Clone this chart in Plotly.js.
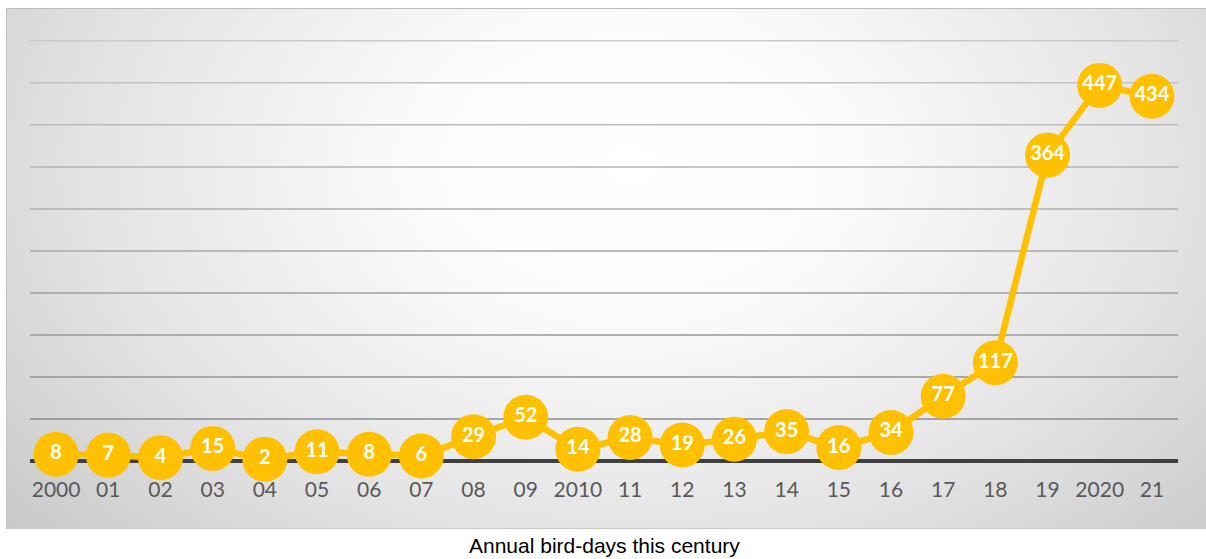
<!DOCTYPE html>
<html>
<head>
<meta charset="utf-8">
<script src="https://cdn.plot.ly/plotly-3.0.1.min.js"></script>
<style>
  html, body { margin: 0; padding: 0; background: #ffffff; }
  #wrap { position: relative; width: 1206px; height: 559px; }
  #bg {
    position: absolute; left: 6px; top: 8px; width: 1200px; height: 521px;
    background: radial-gradient(ellipse 72% 115% at 52% 30%, #ffffff 0%, #fbfbfb 25%, #e4e4e4 62%, #c4c4c4 100%);
    border-top: 1px solid #bdbdbd; border-bottom: 1px solid #c8c8c8; border-left: 1px solid #c2c2c2; box-sizing: border-box;
  }
  #chart { position: absolute; left: 0; top: 0; width: 1206px; height: 559px; }
</style>
</head>
<body>
<div id="wrap">
  <div id="bg"></div>
  <div id="chart"></div>
</div>
<script>
const years = ["2000","01","02","03","04","05","06","07","08","09","2010","11","12","13","14","15","16","17","18","19","2020","21"];
const birdDays = [8,7,4,15,2,11,8,6,29,52,14,28,19,26,35,16,34,77,117,364,447,434];
const gridValues = [50,100,150,200,250,300,350,400,450,500];
const chartTitle = "Annual bird-days this century";

const trace = {
  type: 'scatter',
  mode: 'lines+markers+text',
  x: years,
  y: birdDays,
  text: birdDays.map(String),
  textposition: 'middle center',
  textfont: { family: 'Lato, sans-serif', size: 20, color: '#ffffff', weight: 'bold' },
  line: { color: '#FFC000', width: 6.5 },
  marker: { color: '#FFC000', size: 45, line: { width: 0 } },
  cliponaxis: false,
  hoverinfo: 'x+y'
};

// gridlines fade from darker (bottom) to lighter (top), as in the reference
function gridColor(i, n) {
  const t = i / (n - 1);
  const c = Math.round(140 + t * (202 - 140));
  return 'rgb(' + c + ',' + c + ',' + c + ')';
}
const gridShapes = gridValues.map((v, i) => ({
  type: 'line', layer: 'below',
  xref: 'paper', x0: 0, x1: 1,
  yref: 'y', y0: v, y1: v,
  line: { color: gridColor(i, gridValues.length), width: 1.5 }
}));

const layout = {
  width: 1206, height: 559,
  margin: { l: 30, r: 28, t: 40, b: 98 },
  paper_bgcolor: 'rgba(0,0,0,0)',
  plot_bgcolor: 'rgba(0,0,0,0)',
  showlegend: false,
  xaxis: {
    type: 'category',
    range: [-0.5, 21.5],
    showgrid: false, zeroline: false, showline: false,
    ticks: '',
    tickfont: { family: 'Lato, sans-serif', size: 21, color: '#595959' },
    ticklabelstandoff: 14,
    fixedrange: true
  },
  yaxis: {
    range: [0, 501],
    dtick: 50,
    showticklabels: false,
    ticks: '',
    showgrid: false,
    zeroline: true,
    zerolinecolor: '#404040',
    zerolinewidth: 4,
    showline: false,
    fixedrange: true
  },
  shapes: gridShapes,
  annotations: [{
    text: chartTitle,
    xref: 'paper', yref: 'paper',
    x: 0.5, y: -0.2,
    xanchor: 'center', yanchor: 'middle',
    showarrow: false,
    font: { family: 'Liberation Sans, Arial, sans-serif', size: 21, color: '#000000' }
  }]
};

Plotly.newPlot('chart', [trace], layout, { displayModeBar: false, staticPlot: true });
</script>
</body>
</html>
